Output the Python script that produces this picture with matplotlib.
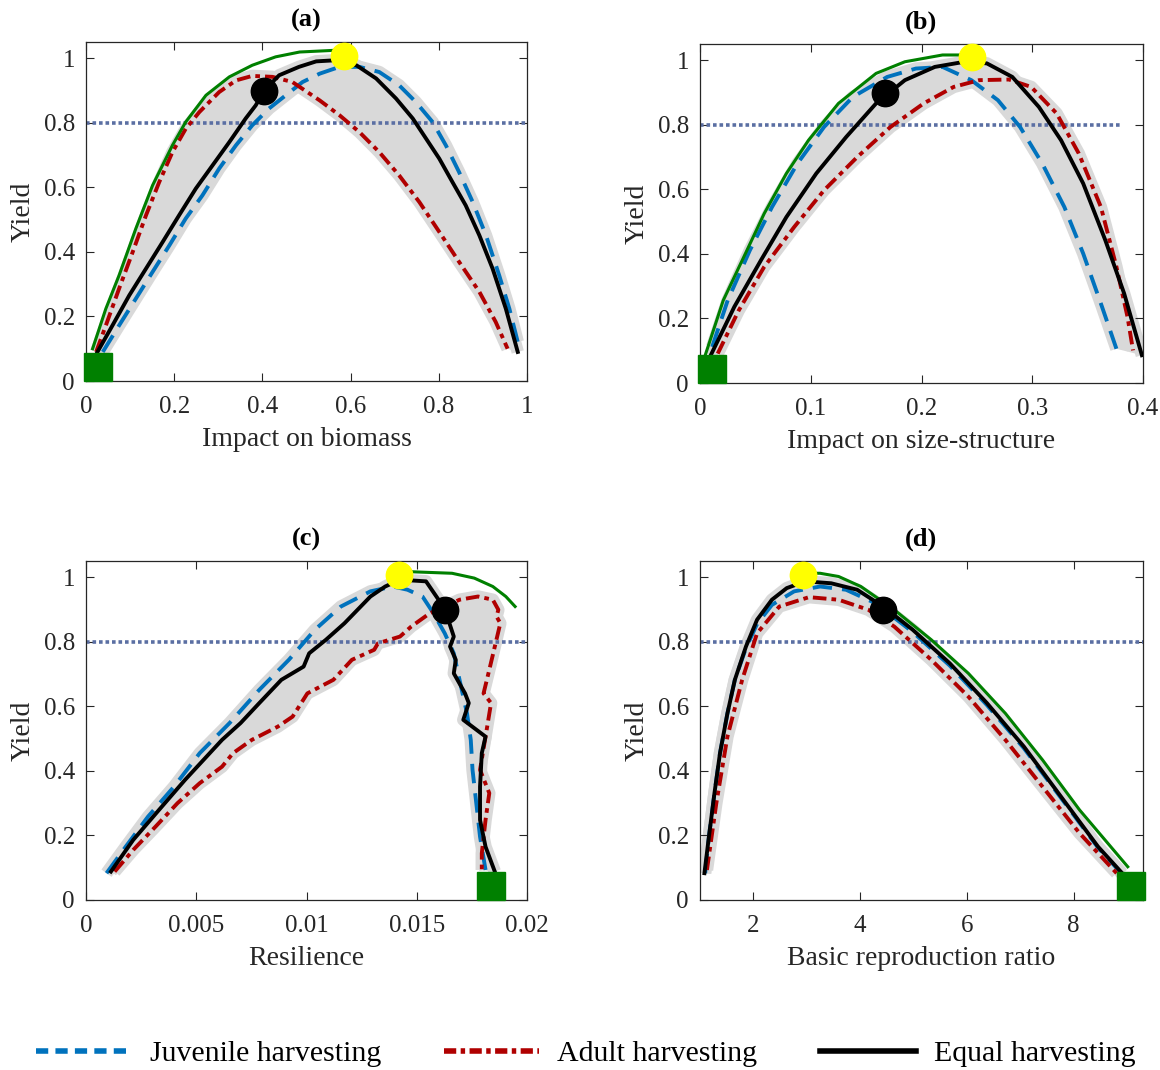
import numpy as np
import matplotlib
matplotlib.use("Agg")
import matplotlib.pyplot as plt
from matplotlib.ticker import FuncFormatter
from matplotlib.lines import Line2D

plt.rcParams['font.family'] = ['Liberation Serif', 'DejaVu Serif']

# ---------------- data: panel (a) Impact on biomass ----------------
a_juv_x = [0.038, 0.075, 0.113, 0.151, 0.189, 0.226, 0.264, 0.302, 0.340, 0.377, 0.415, 0.453, 0.491, 0.530,
           0.575, 0.620, 0.665, 0.710, 0.748, 0.786, 0.816, 0.846, 0.877, 0.907, 0.937, 0.960, 0.979]
a_juv_y = [0.090, 0.172, 0.255, 0.338, 0.420, 0.503, 0.575, 0.658, 0.730, 0.792, 0.844, 0.885, 0.926, 0.952,
           0.973, 0.973, 0.957, 0.916, 0.864, 0.802, 0.730, 0.647, 0.554, 0.451, 0.327, 0.224, 0.121]
a_adu_x = [0.023, 0.045, 0.075, 0.106, 0.136, 0.166, 0.196, 0.226, 0.257, 0.302, 0.340, 0.377, 0.423, 0.468,
           0.530, 0.575, 0.620, 0.665, 0.710, 0.756, 0.801, 0.846, 0.892, 0.929, 0.956]
a_adu_y = [0.090, 0.172, 0.286, 0.400, 0.513, 0.616, 0.709, 0.781, 0.833, 0.895, 0.931, 0.945, 0.942, 0.926,
           0.869, 0.823, 0.771, 0.709, 0.637, 0.554, 0.462, 0.369, 0.276, 0.183, 0.100]
a_eq_x = [0.026, 0.060, 0.098, 0.136, 0.174, 0.211, 0.249, 0.287, 0.325, 0.362, 0.385, 0.404, 0.438, 0.483,
          0.522, 0.560, 0.613, 0.658, 0.703, 0.741, 0.771, 0.801, 0.831, 0.861, 0.892, 0.922, 0.952, 0.979]
a_eq_y = [0.090, 0.172, 0.265, 0.348, 0.431, 0.513, 0.596, 0.668, 0.740, 0.813, 0.854, 0.900, 0.947, 0.973,
          0.990, 0.993, 0.978, 0.937, 0.875, 0.813, 0.751, 0.689, 0.616, 0.544, 0.451, 0.348, 0.224, 0.090]
a_max_x = [0.015, 0.045, 0.075, 0.113, 0.151, 0.196, 0.226, 0.272, 0.325, 0.377, 0.430, 0.4845, 0.56, 0.585]
a_max_y = [0.100, 0.224, 0.327, 0.472, 0.606, 0.730, 0.802, 0.885, 0.942, 0.978, 1.004, 1.019, 1.024, 1.022]
a_msy = (0.586, 1.007)
a_opt = (0.404, 0.899)
a_unf = (0.027, 0.043)

# ---------------- data: panel (b) Impact on size-structure ----------------
b_juv_x = [0.011, 0.025, 0.045, 0.065, 0.088, 0.112, 0.138, 0.169, 0.195, 0.219, 0.245, 0.269, 0.289, 0.309, 0.329, 0.346, 0.363, 0.376]
b_juv_y = [0.112, 0.256, 0.411, 0.545, 0.680, 0.793, 0.886, 0.948, 0.974, 0.979, 0.938, 0.876, 0.793, 0.680, 0.545, 0.401, 0.236, 0.106]
b_adu_x = [0.016, 0.035, 0.058, 0.085, 0.112, 0.142, 0.172, 0.202, 0.229, 0.252, 0.279, 0.299, 0.322, 0.342, 0.362, 0.376, 0.386, 0.391]
b_adu_y = [0.091, 0.225, 0.360, 0.483, 0.597, 0.700, 0.793, 0.866, 0.917, 0.938, 0.940, 0.917, 0.835, 0.711, 0.545, 0.360, 0.205, 0.101]
b_eq_x = [0.0097, 0.031, 0.055, 0.078, 0.105, 0.132, 0.159, 0.185, 0.212, 0.239, 0.259, 0.282, 0.306, 0.326, 0.346, 0.366, 0.383, 0.399]
b_eq_y = [0.086, 0.236, 0.380, 0.514, 0.649, 0.762, 0.866, 0.938, 0.979, 0.995, 0.990, 0.948, 0.855, 0.752, 0.618, 0.442, 0.277, 0.086]
b_max_x = [0.0047, 0.021, 0.041, 0.058, 0.078, 0.098, 0.125, 0.159, 0.185, 0.219, 0.242]
b_max_y = [0.086, 0.256, 0.401, 0.525, 0.649, 0.752, 0.866, 0.959, 0.995, 1.016, 1.016]
b_msy = (0.246, 1.010)
b_opt = (0.167, 0.897)
b_unf = (0.0104, 0.044)

# ---------------- data: panel (c) Resilience ----------------
c_juv_x = [0.00093, 0.0018, 0.00281, 0.00399, 0.00516, 0.00651, 0.00786, 0.0092, 0.01038, 0.01156, 0.0129, 0.01391,
           0.01458, 0.01526, 0.01576, 0.01627, 0.01668, 0.01694, 0.01728, 0.01745, 0.01753, 0.0177, 0.01787, 0.01812]
c_juv_y = [0.083, 0.165, 0.258, 0.351, 0.455, 0.548, 0.651, 0.744, 0.837, 0.909, 0.956, 0.971,
           0.961, 0.940, 0.888, 0.826, 0.764, 0.682, 0.578, 0.496, 0.403, 0.300, 0.196, 0.093]
c_adu_x = [0.0013, 0.00214, 0.00315, 0.00415, 0.00516, 0.00617, 0.00667, 0.00752, 0.0087, 0.00937, 0.01004, 0.01122,
           0.01206, 0.01307, 0.01324, 0.01424, 0.01475, 0.01559, 0.01627, 0.01694, 0.01778, 0.01845, 0.0187, 0.01862,
           0.01879, 0.01854, 0.01829, 0.01803, 0.01837, 0.01812, 0.01787, 0.01829, 0.01812, 0.01795, 0.01795]
c_adu_y = [0.088, 0.155, 0.227, 0.300, 0.362, 0.413, 0.455, 0.496, 0.537, 0.568, 0.640, 0.682,
           0.744, 0.775, 0.795, 0.816, 0.847, 0.888, 0.909, 0.930, 0.940, 0.930, 0.899, 0.878,
           0.857, 0.785, 0.713, 0.640, 0.610, 0.506, 0.403, 0.331, 0.248, 0.145, 0.093]
c_eq_x = [0.00113, 0.00214, 0.00331, 0.00449, 0.00533, 0.00617, 0.00701, 0.00786, 0.00886, 0.00987, 0.01012, 0.01088,
          0.01172, 0.0129, 0.01357, 0.01424, 0.01542, 0.01568, 0.0161, 0.01643, 0.01668, 0.01651, 0.01677, 0.01668,
          0.01719, 0.01736, 0.01711, 0.01812, 0.01795, 0.01787, 0.01787, 0.01812, 0.01854]
c_eq_y = [0.088, 0.186, 0.279, 0.372, 0.434, 0.496, 0.548, 0.610, 0.682, 0.723, 0.764, 0.806,
          0.857, 0.940, 0.971, 0.992, 0.987, 0.961, 0.919, 0.868, 0.816, 0.785, 0.744, 0.702,
          0.640, 0.610, 0.558, 0.506, 0.455, 0.351, 0.248, 0.165, 0.088]
c_max_x = [0.01424, 0.01542, 0.0166, 0.01761, 0.01845, 0.01904, 0.01946]
c_max_y = [1.018, 1.015, 1.012, 0.997, 0.971, 0.940, 0.909]
c_msy = (0.0142, 1.007)
c_opt = (0.01627, 0.899)
c_unf = (0.01838, 0.043)

# ---------------- data: panel (d) Basic reproduction ratio ----------------
d_juv_x = [1.097, 1.167, 1.271, 1.375, 1.514, 1.653, 1.861, 2.069, 2.347, 2.764, 3.25, 3.736, 4.29, 4.986, 5.68, 6.375, 7.069, 7.764, 8.458, 8.91]
d_juv_y = [0.083, 0.196, 0.331, 0.455, 0.578, 0.682, 0.780, 0.855, 0.914, 0.956, 0.971, 0.961, 0.919, 0.830, 0.726, 0.604, 0.470, 0.316, 0.162, 0.080]
d_adu_x = [1.13, 1.306, 1.514, 1.79, 2.069, 2.486, 3.042, 3.597, 4.153, 4.639, 5.333, 6.028, 6.722, 7.417, 8.111, 8.806]
d_adu_y = [0.093, 0.300, 0.506, 0.682, 0.826, 0.909, 0.938, 0.930, 0.899, 0.847, 0.744, 0.630, 0.496, 0.351, 0.207, 0.083]
d_eq_x = [1.083, 1.167, 1.271, 1.375, 1.514, 1.653, 1.861, 2.069, 2.347, 2.625, 2.972, 3.458, 3.944, 4.431, 4.986, 5.68, 6.375, 7.069, 7.764, 8.458, 8.91]
d_eq_y = [0.083, 0.196, 0.331, 0.455, 0.578, 0.682, 0.785, 0.868, 0.930, 0.966, 0.987, 0.981, 0.961, 0.909, 0.837, 0.733, 0.610, 0.475, 0.320, 0.165, 0.083]
d_max_x = [2.937, 3.25, 3.597, 4.014, 4.639, 5.333, 6.028, 6.722, 7.417, 8.111, 9.014]
d_max_y = [1.012, 1.012, 1.002, 0.971, 0.899, 0.806, 0.702, 0.578, 0.434, 0.279, 0.103]
d_msy = (2.937, 1.007)
d_opt = (4.431, 0.899)
d_unf = (9.07, 0.043)

titles = ["(a)", "(b)", "(c)", "(d)"]
xlabels = ["Impact on biomass", "Impact on size-structure", "Resilience", "Basic reproduction ratio"]
xticks_list = [[0, 0.2, 0.4, 0.6, 0.8, 1], [0, 0.1, 0.2, 0.3, 0.4],
               [0, 0.005, 0.01, 0.015, 0.02], [2, 4, 6, 8]]
yticks = [0, 0.2, 0.4, 0.6, 0.8, 1]
threshold = 0.8
legend_labels = ["Juvenile harvesting", "Adult harvesting", "Equal harvesting"]

panels = [
    dict(juv=(a_juv_x, a_juv_y), adu=(a_adu_x, a_adu_y), eq=(a_eq_x, a_eq_y), mx=(a_max_x, a_max_y),
         msy=a_msy, opt=a_opt, unf=a_unf, xlim=(0, 1), hline=(0, 1)),
    dict(juv=(b_juv_x, b_juv_y), adu=(b_adu_x, b_adu_y), eq=(b_eq_x, b_eq_y), mx=(b_max_x, b_max_y),
         msy=b_msy, opt=b_opt, unf=b_unf, xlim=(0, 0.4), hline=(0, 0.379)),
    dict(juv=(c_juv_x, c_juv_y), adu=(c_adu_x, c_adu_y), eq=(c_eq_x, c_eq_y), mx=(c_max_x, c_max_y),
         msy=c_msy, opt=c_opt, unf=c_unf, xlim=(0, 0.02), hline=(0, 0.02)),
    dict(juv=(d_juv_x, d_juv_y), adu=(d_adu_x, d_adu_y), eq=(d_eq_x, d_eq_y), mx=(d_max_x, d_max_y),
         msy=d_msy, opt=d_opt, unf=d_unf, xlim=(1, 9.3), hline=(1, 9.3)),
]

C_BLUE = '#0072BD'
C_RED = '#B00000'
C_BLACK = '#000000'
C_GREEN = '#008000'
C_GRAY = '#D9D9D9'
C_DOT = '#5B6FA3'

fig = plt.figure(figsize=(11.6, 10.7), dpi=100)
W, H = 1160, 1070
boxes = [(86, 42, 527, 381), (700, 44, 1143, 383), (86, 561, 527, 900), (700, 561, 1143, 900)]

fmt = FuncFormatter(lambda v, p: ('%g' % v))

for i, (pan, box) in enumerate(zip(panels, boxes)):
    l, t, r, b = box
    ax = fig.add_axes([l / W, 1 - b / H, (r - l) / W, (b - t) / H])
    curves = [pan['juv'], pan['adu'], pan['eq']]
    # gray uncertainty band: areas between each pair of curves
    for j in range(3):
        for k in range(j + 1, 3):
            x1, y1 = curves[j]
            x2, y2 = curves[k]
            px = list(x1) + list(x2)[::-1]
            py = list(y1) + list(y2)[::-1]
            ax.fill(px, py, color=C_GRAY, lw=0, zorder=1)
    for (cx, cy) in curves:
        ax.plot(cx, cy, color=C_GRAY, lw=9, solid_capstyle='butt', solid_joinstyle='round', zorder=1.5)
    ax.plot(pan['hline'], [threshold, threshold], color=C_DOT, lw=2.6, linestyle=(0, (1, 0.8)), zorder=2)
    ax.plot(*pan['juv'], color=C_BLUE, lw=2.8, linestyle=(0, (5, 2.6)), zorder=3)
    ax.plot(*pan['adu'], color=C_RED, lw=2.8, linestyle=(0, (3.5, 1.3, 1.2, 1.3)), zorder=3.1)
    ax.plot(*pan['eq'], color=C_BLACK, lw=2.8, zorder=3.2)
    ax.plot(*pan['mx'], color=C_GREEN, lw=2.2, zorder=3.3)
    ax.plot([pan['opt'][0]], [pan['opt'][1]], 'o', color='black', ms=19, zorder=5, clip_on=False)
    ax.plot([pan['msy'][0]], [pan['msy'][1]], 'o', color='#FFFF00', ms=19, zorder=5, clip_on=False)
    ax.plot([pan['unf'][0]], [pan['unf'][1]], 's', color=C_GREEN, ms=20, zorder=5, clip_on=False)

    ax.set_xlim(*pan['xlim'])
    ax.set_ylim(0, 1.05)
    ax.set_xticks(xticks_list[i])
    ax.set_yticks(yticks)
    ax.xaxis.set_major_formatter(fmt)
    ax.yaxis.set_major_formatter(fmt)
    ax.tick_params(direction='in', length=6, width=0.8, top=True, right=True,
                   labelsize=18, colors='#262626')
    ax.tick_params(axis='x', pad=11)
    ax.tick_params(axis='y', pad=8)
    for s in ax.spines.values():
        s.set_color('#262626')
        s.set_linewidth(0.9)
    ax.set_xlabel(xlabels[i], fontsize=20, color='#262626', labelpad=6)
    ax.set_ylabel("Yield", fontsize=20, color='#262626', labelpad=6)
    ax.set_title(titles[i], fontsize=19, fontweight='bold', pad=11)

handles = [Line2D([], [], color=C_BLUE, lw=4, linestyle=(0, (2.2, 1.3))),
           Line2D([], [], color=C_RED, lw=4, linestyle=(0, (2.2, 0.8, 0.8, 0.8))),
           Line2D([], [], color=C_BLACK, lw=4)]
fig.legend(handles, legend_labels, loc='center', bbox_to_anchor=(0.505, 1 - 1054 / H), ncol=3,
           frameon=False, fontsize=21.5, handlelength=3.2, columnspacing=2.1, handletextpad=0.6)

fig.savefig("out.png", dpi=100)
